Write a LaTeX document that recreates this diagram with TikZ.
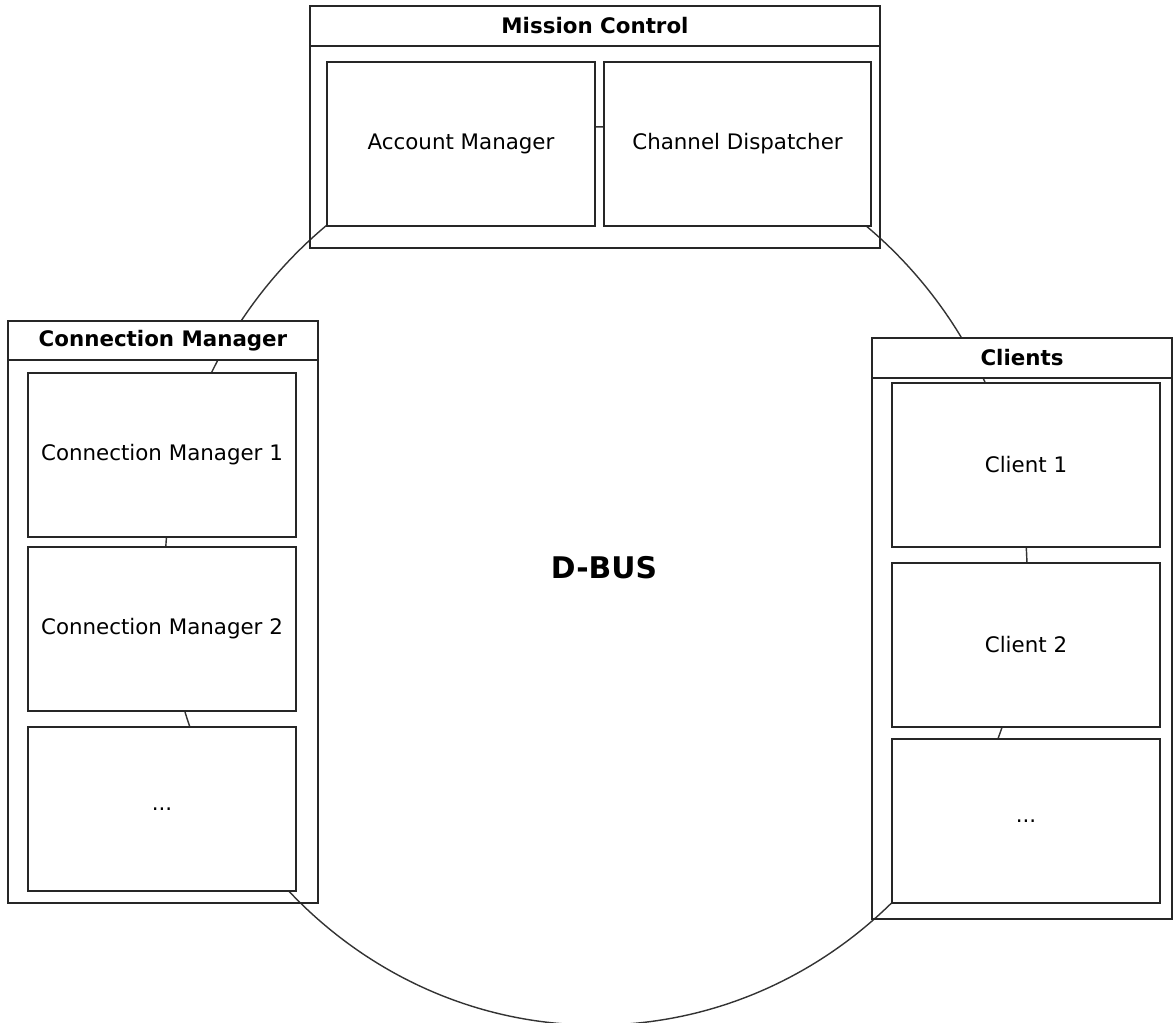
\documentclass[tikz,border=0pt]{standalone}
\usepackage{fontspec}
\setmainfont{DejaVu Sans}
\usetikzlibrary{fit,shapes.geometric}
\tikzset{
  lw/.style={line width=1.05pt, draw=black!85},
  outerbox/.style={lw, rectangle, inner sep=0pt, outer sep=0pt},
  headbox/.style={lw, rectangle, fill=white, inner sep=0pt, outer sep=0pt},
  innerbox/.style={lw, rectangle, fill=white, inner sep=0pt, outer sep=0pt},
  headtext/.style={inner sep=0pt, font=\fontsize{15.2}{18}\selectfont\bfseries},
  boxtext/.style={inner sep=0pt, font=\fontsize{15.2}{18}\selectfont},
  busline/.style={line width=1pt, draw=black!80, ellipse, inner sep=0pt, outer sep=0pt}
}
\begin{document}
\begin{tikzpicture}[x=0.025cm, y=-0.025cm]
\useasboundingbox (0,0) rectangle (1174,1023);
\clip (0,0) rectangle (1174,1023);
% D-BUS ring
\node[busline, minimum width=21.55cm, minimum height=22.45cm] (bus) at (596,576) {};
\node[font=\fontsize{21.2}{25}\selectfont\bfseries] (buslabel) at (604,568) {D-BUS};
% Mission Control
\node[outerbox, fit={(310,6) (880,248)}] (mc) {};
\node[headbox, fit={(310,6) (880,46)}] (mchead) {};
\node[headtext] (mcheadt) at (mchead.center) {Mission Control};
\node[innerbox, fit={(327,62) (595,226)}] (am) {};
\node[boxtext] (amt) at (am.center) {Account Manager};
\node[innerbox, fit={(604,62) (871,226)}] (cd) {};
\node[boxtext] (cdt) at (cd.center) {Channel Dispatcher};
% Connection Manager
\node[outerbox, fit={(8,321) (318,903)}] (cm) {};
\node[headbox, fit={(8,321) (318,360)}] (cmhead) {};
\node[headtext] (cmheadt) at (cmhead.center) {Connection Manager};
\node[innerbox, fit={(28,373) (296,537)}] (cm1) {};
\node[boxtext] (cm1t) at (cm1.center) {Connection Manager 1};
\node[innerbox, fit={(28,547) (296,711)}] (cm2) {};
\node[boxtext] (cm2t) at (cm2.center) {Connection Manager 2};
\node[innerbox, fit={(28,727) (296,891)}] (cm3) {};
\node[boxtext] (cm3t) at (cm3.center) {...};
% Clients
\node[outerbox, fit={(872,338) (1172,919)}] (cl) {};
\node[headbox, fit={(872,338) (1172,378)}] (clhead) {};
\node[headtext] (clheadt) at (clhead.center) {Clients};
\node[innerbox, fit={(892,383) (1160,547)}] (c1) {};
\node[boxtext] (c1t) at (c1.center) {Client 1};
\node[innerbox, fit={(892,563) (1160,727)}] (c2) {};
\node[boxtext] (c2t) at (c2.center) {Client 2};
\node[innerbox, fit={(892,739) (1160,903)}] (c3) {};
\node[boxtext] (c3t) at (c3.center) {...};
\end{tikzpicture}
\end{document}
